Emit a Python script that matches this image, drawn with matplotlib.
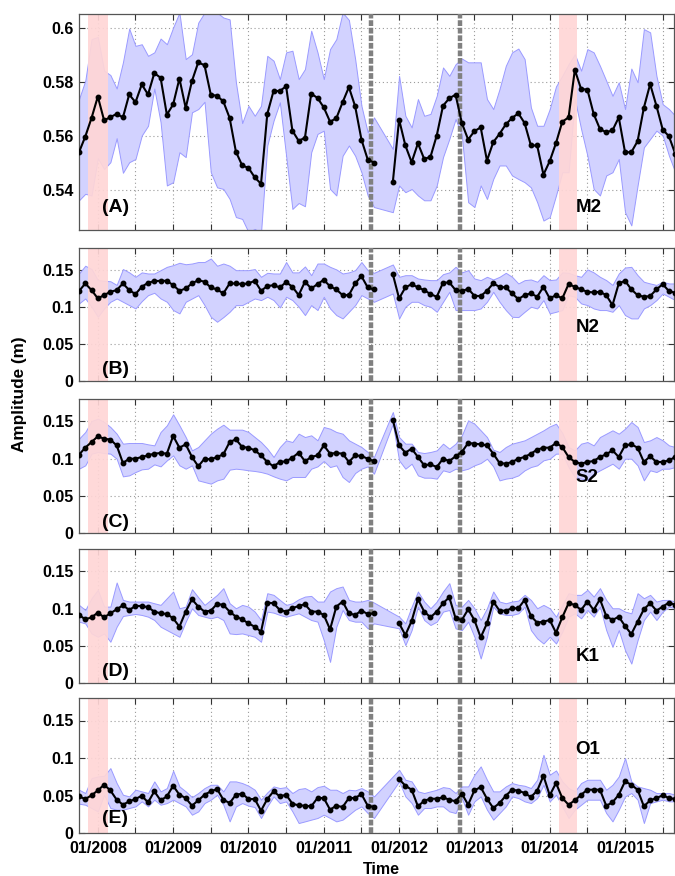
import numpy as np
import matplotlib.pyplot as plt

plt.rcParams['font.family'] = ['Liberation Sans', 'DejaVu Sans']
plt.rcParams['font.weight'] = 'bold'

# monthly series, first month = Oct 2007 (decimal year 2007.75)
start_year = 2007.75
n_months = 96
N = None

m2_mean = [0.5538, 0.5596, 0.5665, 0.5744, 0.5656, 0.5668, 0.568, 0.5667, 0.5752, 0.5723,
           0.5789, 0.5752, 0.5831, 0.5814, 0.5677, 0.5715, 0.5811, 0.5702, 0.5802, 0.5871,
           0.586, 0.5751, 0.5747, 0.5726, 0.5665, 0.554, 0.5489, 0.548, 0.5445, 0.5421,
           0.568, 0.5765, 0.5765, 0.5782, 0.5618, 0.558, 0.5592, 0.5755, 0.5739, 0.5704,
           0.5651, 0.5664, 0.5723, 0.5779, 0.5708, 0.5585, 0.5511, 0.5499, N, N,
           0.5427, 0.5659, 0.5563, 0.5501, 0.5571, 0.5513, 0.5521, 0.56, 0.571, 0.5738,
           0.5751, 0.5646, 0.5585, 0.5616, 0.563, 0.5507, 0.5575, 0.5606, 0.5641, 0.5665,
           0.5682, 0.5646, 0.5563, 0.5563, 0.5455, 0.5505, 0.5572, 0.5651, 0.5667, 0.5843,
           0.5772, 0.577, 0.568, 0.5624, 0.5612, 0.5619, 0.5667, 0.5538, 0.5538, 0.5579,
           0.5703, 0.579, 0.571, 0.5622, 0.5597, 0.5532]
m2_high = [0.5735, 0.5803, 0.5957, 0.5965, 0.584, 0.5824, 0.5774, 0.5871, 0.5996, 0.5932,
           0.5938, 0.5895, 0.5908, 0.5959, 0.5938, 0.6, 0.6055, 0.5883, 0.5901, 0.6018,
           0.6055, 0.609, 0.6055, 0.6037, 0.603, 0.5797, 0.5646, 0.571, 0.5673, 0.571,
           0.5895, 0.5877, 0.5809, 0.5908, 0.5914, 0.5809, 0.5846, 0.5988, 0.5908, 0.5809,
           0.592, 0.5957, 0.6055, 0.6028, 0.5883, 0.571, 0.5612, 0.5667, N, N,
           0.555, 0.5821, 0.5673, 0.563, 0.5735, 0.5673, 0.568, 0.5747, 0.5852, 0.5821,
           0.5864, 0.5885, 0.5871, 0.5871, 0.5871, 0.5735, 0.5698, 0.5772, 0.5858, 0.5908,
           0.5922, 0.5883, 0.5704, 0.5636, 0.5636, 0.5698, 0.5782, 0.5821, 0.5864, 0.5901,
           0.584, 0.592, 0.5908, 0.5858, 0.5803, 0.5747, 0.5797, 0.5698, 0.5848, 0.5797,
           0.5994, 0.5982, 0.5821, 0.5716, 0.5698, 0.5673]
m2_low = [0.536, 0.5384, 0.5378, 0.5516, 0.5476, 0.5501, 0.559, 0.5462, 0.5501, 0.5513,
          0.56, 0.5636, 0.5774, 0.5649, 0.5415, 0.5427, 0.5538, 0.552, 0.5686, 0.5698,
          0.5725, 0.5464, 0.5408, 0.5402, 0.5365, 0.5298, 0.5291, 0.5242, 0.5254, 0.524,
          0.5563, 0.5655, 0.5723, 0.5525, 0.5328, 0.535, 0.5338, 0.5538, 0.5606, 0.5618,
          0.5402, 0.5378, 0.5525, 0.5563, 0.5525, 0.5464, 0.5378, 0.5335, N, N,
          0.5316, 0.5415, 0.539, 0.5402, 0.5378, 0.536, 0.536, 0.5415, 0.552, 0.5587,
          0.5661, 0.56, 0.5353, 0.5335, 0.5415, 0.5365, 0.5439, 0.5489, 0.5489, 0.5452,
          0.5439, 0.5427, 0.5408, 0.5353, 0.5285, 0.5298, 0.5378, 0.5464, 0.5464, 0.5735,
          0.5624, 0.5525, 0.5402, 0.5378, 0.5452, 0.5464, 0.5513, 0.5316, 0.5267, 0.5415,
          0.5556, 0.5587, 0.5618, 0.56, 0.5525, 0.5464]

n2_mean = [0.1216, 0.132, 0.123, 0.1117, 0.1162, 0.1207, 0.123, 0.132, 0.123, 0.1176,
           0.1275, 0.1329, 0.1352, 0.1356, 0.1356, 0.1297, 0.1221, 0.1252, 0.132, 0.1365,
           0.1343, 0.1266, 0.1239, 0.1185, 0.132, 0.132, 0.1311, 0.132, 0.1356, 0.1221,
           0.1284, 0.1297, 0.1266, 0.1338, 0.1275, 0.1162, 0.1343, 0.1252, 0.1311, 0.137,
           0.128, 0.1239, 0.1162, 0.1162, 0.132, 0.1419, 0.1266, 0.1239, N, N,
           0.1446, 0.1117, 0.1266, 0.1311, 0.1266, 0.123, 0.1176, 0.114, 0.1329, 0.1334,
           0.123, 0.1216, 0.1248, 0.1153, 0.1149, 0.1221, 0.132, 0.1275, 0.1266, 0.1185,
           0.1108, 0.1162, 0.1185, 0.114, 0.1275, 0.1117, 0.1162, 0.1117, 0.1311, 0.1275,
           0.1239, 0.1207, 0.1198, 0.1207, 0.1162, 0.1027, 0.132, 0.1356, 0.1239, 0.1162,
           0.114, 0.1149, 0.1239, 0.1311, 0.1216, 0.1194]
n2_high = [0.1455, 0.156, 0.1515, 0.1365, 0.1356, 0.135, 0.13, 0.1515, 0.147, 0.141,
           0.147, 0.1455, 0.1455, 0.15, 0.1545, 0.1568, 0.16, 0.158, 0.159, 0.161,
           0.161, 0.1658, 0.156, 0.159, 0.156, 0.15, 0.15, 0.15, 0.1515, 0.141,
           0.1464, 0.1455, 0.1455, 0.161, 0.147, 0.147, 0.155, 0.1432, 0.159, 0.159,
           0.1545, 0.151, 0.1455, 0.147, 0.15, 0.161, 0.15, 0.1464, N, N,
           0.1577, 0.141, 0.1432, 0.1432, 0.1387, 0.1374, 0.1365, 0.1365, 0.1446, 0.147,
           0.1545, 0.147, 0.15, 0.1387, 0.1365, 0.141, 0.1374, 0.141, 0.1464, 0.141,
           0.132, 0.1365, 0.1374, 0.1343, 0.1432, 0.1365, 0.1374, 0.147, 0.1464, 0.1432,
           0.141, 0.151, 0.147, 0.141, 0.1365, 0.13, 0.1455, 0.1536, 0.1545, 0.1432,
           0.1343, 0.132, 0.13, 0.1343, 0.132, 0.132]
n2_low = [0.105, 0.1117, 0.1005, 0.0869, 0.0982, 0.1072, 0.1117, 0.1072, 0.1027, 0.0982,
          0.1081, 0.1162, 0.1194, 0.1117, 0.1072, 0.096, 0.0915, 0.1072, 0.1117, 0.1162,
          0.1027, 0.0869, 0.0802, 0.0865, 0.0937, 0.1027, 0.1027, 0.1072, 0.1117, 0.1095,
          0.114, 0.1095, 0.0996, 0.114, 0.1095, 0.1005, 0.0892, 0.1027, 0.096, 0.114,
          0.0982, 0.0892, 0.0847, 0.0937, 0.1027, 0.1162, 0.1117, 0.1072, N, N,
          0.1185, 0.0847, 0.1005, 0.1072, 0.1072, 0.1027, 0.1005, 0.0937, 0.1072, 0.1207,
          0.096, 0.096, 0.096, 0.096, 0.0982, 0.1072, 0.1207, 0.1072, 0.096, 0.0869,
          0.0865, 0.0937, 0.1005, 0.0982, 0.1095, 0.0915, 0.0937, 0.096, 0.1162, 0.114,
          0.105, 0.1027, 0.0982, 0.096, 0.096, 0.0937, 0.1027, 0.0892, 0.0847, 0.0847,
          0.0982, 0.1027, 0.1095, 0.1185, 0.114, 0.1095]

s2_mean = [0.1052, 0.1146, 0.1222, 0.1298, 0.1267, 0.1254, 0.1177, 0.094, 0.0998, 0.0998,
           0.1021, 0.1043, 0.1066, 0.1074, 0.1066, 0.1303, 0.1146, 0.1191, 0.1021, 0.0895,
           0.0998, 0.0989, 0.1021, 0.1057, 0.1222, 0.1258, 0.1155, 0.1146, 0.111, 0.1043,
           0.0954, 0.0895, 0.0954, 0.0963, 0.1012, 0.1079, 0.0963, 0.1021, 0.1043, 0.1177,
           0.1066, 0.1074, 0.1066, 0.0954, 0.1043, 0.1034, 0.0998, 0.0963, N, N,
           0.1522, 0.1177, 0.1079, 0.1133, 0.1021, 0.0909, 0.0922, 0.0886, 0.0998, 0.0967,
           0.103, 0.1088, 0.1209, 0.12, 0.1191, 0.1177, 0.1066, 0.094, 0.0931, 0.0954,
           0.0998, 0.1021, 0.1066, 0.1119, 0.1146, 0.1146, 0.1209, 0.1155, 0.1021, 0.0954,
           0.0931, 0.0954, 0.0967, 0.1021, 0.1057, 0.111, 0.1021, 0.1177, 0.1191, 0.1146,
           0.0954, 0.103, 0.0954, 0.0954, 0.0976, 0.1021]
s2_high = [0.1267, 0.1357, 0.1504, 0.1536, 0.1491, 0.1424, 0.1334, 0.12, 0.1209, 0.1209,
           0.1209, 0.1191, 0.1177, 0.1357, 0.1446, 0.1594, 0.1446, 0.1289, 0.111, 0.1155,
           0.1245, 0.1334, 0.1401, 0.1455, 0.1388, 0.1388, 0.1388, 0.1357, 0.1289, 0.1222,
           0.1133, 0.1021, 0.1155, 0.1245, 0.1222, 0.1334, 0.1289, 0.1312, 0.1245, 0.1424,
           0.1401, 0.1357, 0.1334, 0.1245, 0.12, 0.1155, 0.1088, 0.1021, N, N,
           0.1625, 0.1289, 0.12, 0.12, 0.1088, 0.1074, 0.1088, 0.111, 0.12, 0.1133,
           0.12, 0.1312, 0.1513, 0.1468, 0.1379, 0.1289, 0.1119, 0.1088, 0.1155, 0.12,
           0.1222, 0.1245, 0.1289, 0.1334, 0.1379, 0.1432, 0.1468, 0.1343, 0.1155, 0.111,
           0.12, 0.1222, 0.1177, 0.1289, 0.1334, 0.1379, 0.1334, 0.1401, 0.1491, 0.1424,
           0.1222, 0.1245, 0.1289, 0.1245, 0.1177, 0.1155]
s2_low = [0.0864, 0.0909, 0.1066, 0.1088, 0.1074, 0.1066, 0.0998, 0.0761, 0.0774, 0.0819,
          0.0855, 0.0864, 0.0922, 0.0895, 0.0976, 0.1043, 0.0909, 0.0864, 0.0909, 0.0707,
          0.0685, 0.0663, 0.0707, 0.073, 0.0851, 0.0864, 0.0855, 0.0842, 0.0833, 0.0819,
          0.0797, 0.0761, 0.073, 0.0707, 0.0752, 0.0752, 0.0752, 0.0864, 0.0895, 0.0967,
          0.0886, 0.0909, 0.0752, 0.0685, 0.0806, 0.0864, 0.0895, 0.0797, N, N,
          0.1468, 0.0976, 0.0864, 0.0931, 0.0774, 0.0743, 0.0743, 0.073, 0.0842, 0.0819,
          0.0864, 0.0842, 0.0864, 0.0909, 0.094, 0.0998, 0.0895, 0.0707, 0.073, 0.0743,
          0.0774, 0.0842, 0.0886, 0.0909, 0.0976, 0.0998, 0.1066, 0.1066, 0.0886, 0.0752,
          0.073, 0.0716, 0.0797, 0.0842, 0.0886, 0.0931, 0.0864, 0.0998, 0.0998, 0.0909,
          0.0707, 0.0842, 0.0819, 0.0864, 0.0864, 0.0886]

k1_mean = [0.0914, 0.0855, 0.0882, 0.0945, 0.0882, 0.0936, 0.099, 0.1044, 0.0981, 0.1035,
           0.1035, 0.1017, 0.0959, 0.0936, 0.0927, 0.0869, 0.0756, 0.0959, 0.1125, 0.1026,
           0.0959, 0.0972, 0.1062, 0.1049, 0.0959, 0.0891, 0.0855, 0.0801, 0.0756, 0.0689,
           0.108, 0.1071, 0.0981, 0.0959, 0.1004, 0.1035, 0.1058, 0.0959, 0.0959, 0.0914,
           0.072, 0.1026, 0.1094, 0.0936, 0.0914, 0.0972, 0.0927, 0.0936, N, N,
           N, 0.0801, 0.0644, 0.0833, 0.1125, 0.0959, 0.0882, 0.0959, 0.1071, 0.1152,
           0.0869, 0.0846, 0.099, 0.0846, 0.0612, 0.0801, 0.1094, 0.0972, 0.0972, 0.1004,
           0.1004, 0.1116, 0.09, 0.081, 0.0824, 0.0846, 0.0675, 0.0882, 0.1071, 0.1049,
           0.0981, 0.1094, 0.0981, 0.1125, 0.09, 0.0846, 0.0891, 0.0765, 0.0657, 0.0824,
           0.099, 0.1071, 0.0972, 0.1026, 0.108, 0.1049]
k1_high = [0.1049, 0.0981, 0.1139, 0.1251, 0.1026, 0.1026, 0.135, 0.1116, 0.1094, 0.1094,
           0.1094, 0.1094, 0.1071, 0.1049, 0.1139, 0.1229, 0.1004, 0.1026, 0.126, 0.1152,
           0.1049, 0.1116, 0.1184, 0.1274, 0.1071, 0.1004, 0.1049, 0.1026, 0.0959, 0.0846,
           0.1206, 0.1184, 0.1116, 0.1049, 0.1071, 0.1125, 0.1161, 0.117, 0.1094, 0.1094,
           0.1229, 0.1274, 0.1296, 0.1116, 0.1094, 0.1094, 0.1116, 0.108, N, N,
           N, 0.0891, 0.0801, 0.1026, 0.1229, 0.1094, 0.1004, 0.1094, 0.1229, 0.1341,
           0.1049, 0.1026, 0.1116, 0.1004, 0.0846, 0.1004, 0.1229, 0.1094, 0.1071, 0.1094,
           0.1107, 0.1184, 0.1116, 0.1004, 0.1049, 0.1004, 0.0891, 0.1049, 0.1206, 0.1184,
           0.1184, 0.1251, 0.1161, 0.1274, 0.1116, 0.1004, 0.1004, 0.0959, 0.0936, 0.1206,
           0.1139, 0.1184, 0.1094, 0.1116, 0.1116, 0.1094]
k1_low = [0.0824, 0.0801, 0.0666, 0.0621, 0.0666, 0.0554, 0.0756, 0.09, 0.0914, 0.0927,
          0.0914, 0.0891, 0.0846, 0.0756, 0.0711, 0.0666, 0.0621, 0.0824, 0.1004, 0.0914,
          0.0891, 0.0869, 0.0891, 0.0846, 0.0666, 0.0657, 0.0666, 0.0644, 0.0621, 0.0554,
          0.0959, 0.0945, 0.0914, 0.0891, 0.0914, 0.0936, 0.0891, 0.0846, 0.0824, 0.0576,
          0.0284, 0.0756, 0.0981, 0.0846, 0.0824, 0.0824, 0.0734, 0.0801, N, N,
          N, 0.0734, 0.0509, 0.0711, 0.1026, 0.0846, 0.0779, 0.0824, 0.0959, 0.0981,
          0.0734, 0.0711, 0.0824, 0.0621, 0.0329, 0.0621, 0.1026, 0.0936, 0.0914, 0.0914,
          0.0936, 0.1026, 0.0711, 0.0599, 0.0531, 0.0621, 0.0531, 0.0689, 0.0891, 0.0936,
          0.0869, 0.0981, 0.0891, 0.1026, 0.0711, 0.0486, 0.0711, 0.0441, 0.0261, 0.0576,
          0.0846, 0.0959, 0.0846, 0.0959, 0.1026, 0.1004]

o1_mean = [0.0488, 0.0453, 0.0502, 0.0568, 0.0643, 0.0568, 0.0444, 0.0377, 0.0422, 0.0453,
           0.0497, 0.0408, 0.0555, 0.0435, 0.0488, 0.063, 0.051, 0.0466, 0.0364, 0.0435,
           0.051, 0.0555, 0.0586, 0.0444, 0.0399, 0.051, 0.0524, 0.0453, 0.0453, 0.0297,
           0.0453, 0.0555, 0.0488, 0.051, 0.0391, 0.0368, 0.0364, 0.0355, 0.0466, 0.0466,
           0.0311, 0.0364, 0.0346, 0.0466, 0.0466, 0.0519, 0.0364, 0.0346, N, N,
           N, 0.0719, 0.063, 0.0577, 0.0355, 0.043, 0.0457, 0.0457, 0.0475, 0.0444,
           0.0422, 0.0524, 0.0377, 0.0568, 0.0612, 0.0457, 0.0333, 0.0399, 0.0497, 0.0577,
           0.0564, 0.0533, 0.0479, 0.0564, 0.0763, 0.0502, 0.0666, 0.0466, 0.0377, 0.0435,
           0.051, 0.0577, 0.0577, 0.0577, 0.0364, 0.0408, 0.051, 0.0688, 0.0643, 0.0577,
           0.0355, 0.0435, 0.0466, 0.0502, 0.0466, 0.0453]
o1_high = [0.0577, 0.0533, 0.0732, 0.0754, 0.0763, 0.0865, 0.0666, 0.051, 0.0488, 0.0577,
           0.0555, 0.0533, 0.0688, 0.0555, 0.0599, 0.083, 0.0621, 0.0555, 0.0479, 0.0533,
           0.0599, 0.0643, 0.0643, 0.0555, 0.0688, 0.0688, 0.0666, 0.063, 0.0577, 0.0444,
           0.0541, 0.0621, 0.0599, 0.0612, 0.0533, 0.0586, 0.0599, 0.0555, 0.0612, 0.063,
           0.0577, 0.0577, 0.0533, 0.0577, 0.0568, 0.0599, 0.0555, 0.0488, N, N,
           N, 0.0843, 0.071, 0.0688, 0.0555, 0.0533, 0.0555, 0.0577, 0.0612, 0.0599,
           0.0533, 0.0621, 0.0621, 0.0777, 0.0888, 0.071, 0.0555, 0.0555, 0.0621, 0.0666,
           0.0643, 0.063, 0.0599, 0.071, 0.1043, 0.0777, 0.0834, 0.0688, 0.0599, 0.0555,
           0.0666, 0.071, 0.071, 0.071, 0.0577, 0.0643, 0.0754, 0.0999, 0.0688, 0.0621,
           0.0599, 0.0577, 0.0533, 0.0533, 0.0533, 0.051]
o1_low = [0.0391, 0.0377, 0.0333, 0.0288, 0.051, 0.0333, 0.0311, 0.0311, 0.0333, 0.0355,
          0.0422, 0.0355, 0.0444, 0.0377, 0.0399, 0.0444, 0.0399, 0.0355, 0.0244, 0.0288,
          0.0399, 0.0444, 0.051, 0.0377, 0.0155, 0.0355, 0.0399, 0.0364, 0.0346, 0.02,
          0.0355, 0.0488, 0.0399, 0.0422, 0.0288, 0.0133, 0.0155, 0.0178, 0.02, 0.0244,
          0.02, 0.0155, 0.0178, 0.0244, 0.0311, 0.0355, 0.0266, 0.02, N, N,
          N, 0.0688, 0.0488, 0.0399, 0.0244, 0.0333, 0.0333, 0.0355, 0.0355, 0.0288,
          0.0266, 0.0466, 0.0244, 0.0422, 0.0488, 0.0311, 0.0178, 0.0266, 0.0355, 0.0488,
          0.0466, 0.0422, 0.0399, 0.0466, 0.0643, 0.0422, 0.051, 0.0355, 0.02, 0.0311,
          0.0377, 0.0444, 0.0444, 0.0444, 0.0266, 0.0155, 0.0311, 0.0488, 0.0533, 0.0444,
          0.0133, 0.0399, 0.0422, 0.0444, 0.0422, 0.0422]

constituents = ['M2', 'N2', 'S2', 'K1', 'O1']
panel_tags = ['(A)', '(B)', '(C)', '(D)', '(E)']
means = [m2_mean, n2_mean, s2_mean, k1_mean, o1_mean]
highs = [m2_high, n2_high, s2_high, k1_high, o1_high]
lows = [m2_low, n2_low, s2_low, k1_low, o1_low]

pink_spans = [(2007.87, 2008.14), (2014.12, 2014.36)]
break_lines = [2011.63, 2012.81]
year_labels = ['01/2008', '01/2009', '01/2010', '01/2011', '01/2012', '01/2013', '01/2014', '01/2015']

# layout (figure pixels, top/bottom of each panel)
W, H = 675, 876
panel_px = [(14, 230), (248, 381), (399, 533), (549, 683), (698, 833)]
left_px, right_px = 79, 674
ylims = [(0.525, 0.605), (0, 0.18), (0, 0.18), (0, 0.18), (0, 0.18)]
tag_y = [0.5333, 0.0155, 0.0145, 0.0160, 0.0195]
name_y = [0.5335, 0.072, 0.075, 0.035, 0.111]

t = start_year + np.arange(n_months) / 12.0
half_years = np.arange(2008.0, 2015.51, 0.5)
xtick_labels = []
for k, v in enumerate(half_years):
    xtick_labels.append(year_labels[k // 2] if k % 2 == 0 else '')

fig = plt.figure(figsize=(W / 100, H / 100), dpi=100)

for p in range(5):
    top, bot = panel_px[p]
    ax = fig.add_axes([left_px / W, 1 - bot / H, (right_px - left_px) / W, (bot - top) / H])
    mean = np.array(means[p], dtype=float)
    hi = np.array(highs[p], dtype=float)
    lo = np.array(lows[p], dtype=float)
    ok = ~np.isnan(mean)

    ax.fill_between(t[ok], lo[ok], hi[ok], facecolor='#d2d2ff', edgecolor='#9a9aff',
                    lw=0.7, zorder=2)
    for a, b in pink_spans:
        ax.axvspan(a, b, color='#ffd6d6', alpha=0.92, lw=0, zorder=2.5)
    for xb in break_lines:
        ax.axvline(xb, color='#808080', lw=3.2, dashes=(1.3, 0.4), zorder=3)
    ax.plot(t, mean, color='black', lw=1.5, marker='o', ms=3.2, zorder=4)

    ax.set_xlim(start_year, 2015.65)
    ax.set_ylim(*ylims[p])
    ax.set_xticks(half_years)
    if p == 4:
        ax.set_xticklabels(xtick_labels, fontsize=11.5, fontweight='bold')
    else:
        ax.set_xticklabels([])
    if p == 0:
        yt = [0.54, 0.56, 0.58, 0.6]
        ax.set_yticks(yt)
        ax.set_yticklabels(['0.54', '0.56', '0.58', '0.6'], fontsize=11.5, fontweight='bold')
    else:
        yt = [0, 0.05, 0.1, 0.15]
        ax.set_yticks(yt)
        ax.set_yticklabels(['0', '0.05', '0.1', '0.15'], fontsize=11.5, fontweight='bold')

    ax.set_axisbelow(True)
    ax.grid(True, linestyle=(0, (1, 2.5)), color='#9a9a9a', lw=0.8)
    ax.tick_params(direction='in', top=True, right=True, length=4, width=0.8,
                   colors='#333333', labelcolor='black', pad=4)
    ax.tick_params(axis='x', pad=6)
    for s in ax.spines.values():
        s.set_color('#555555')
        s.set_linewidth(0.9)

    ax.text(2008.06, tag_y[p], panel_tags[p], fontsize=14, fontweight='bold',
            ha='left', va='center', zorder=5)
    ax.text(2014.34, name_y[p], constituents[p], fontsize=13.5, fontweight='bold',
            ha='left', va='center', zorder=5)

fig.text(20 / W, 1 - 394 / H, 'Amplitude (m)', rotation=90, fontsize=12.3,
         fontweight='bold', ha='center', va='center')
fig.text(381 / W, 1 - 869 / H, 'Time', fontsize=11.5, fontweight='bold',
         ha='center', va='center')

fig.savefig('out.png', dpi=100)
